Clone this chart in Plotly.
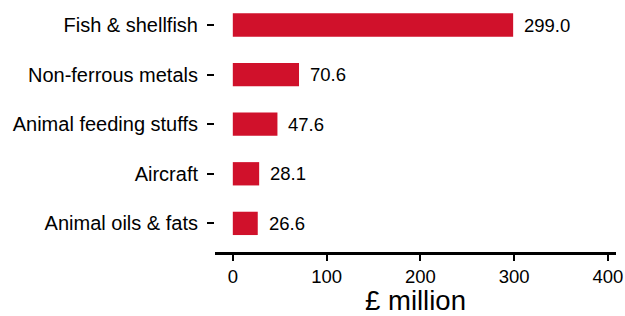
import plotly.graph_objects as go

categories = ["Fish & shellfish", "Non-ferrous metals", "Animal feeding stuffs", "Aircraft", "Animal oils & fats"]
values = [299.0, 70.6, 47.6, 28.1, 26.6]
x_ticks = [0, 100, 200, 300, 400]

RED = "#D0112B"
FONT = "Liberation Sans, Arial, sans-serif"
INK = "#000000"

fig = go.Figure()
fig.add_trace(go.Bar(
    x=values, y=categories, orientation="h",
    marker=dict(color=RED, line=dict(width=0)),
    width=0.47, hoverinfo="skip",
))
for c, v in zip(categories, values):
    fig.add_annotation(x=v, y=c, text=f"{v:.1f}", showarrow=False,
                       xanchor="left", xshift=9, font=dict(family=FONT, size=18.5, color=INK))

fig.update_layout(
    width=625, height=316,
    margin=dict(l=215, r=9, t=0, b=64, autoexpand=False),
    paper_bgcolor="white", plot_bgcolor="white",
    showlegend=False,
    font=dict(family=FONT, size=18, color=INK),
)
fig.update_xaxes(
    range=[-19.0, 408.7], tickvals=x_ticks, ticktext=[str(t) for t in x_ticks],
    showgrid=False, zeroline=False, showline=True, linecolor="black", linewidth=2.5,
    ticks="outside", ticklen=6, tickwidth=2, tickcolor="black",
    tickfont=dict(size=18.5, color=INK),
    title=dict(text="£ million", font=dict(size=27.5, color=INK), standoff=5),
    automargin=False,
)
fig.update_yaxes(
    categoryorder="array", categoryarray=categories, range=[4.577, -0.504],
    showgrid=False, zeroline=False, showline=False,
    ticks="outside", ticklen=7, tickwidth=2, tickcolor="black",
    ticklabelstandoff=5,
    tickfont=dict(size=20, color=INK),
    automargin=False,
)
fig.write_html(
    "out.html",
    config={"displayModeBar": False, "staticPlot": True},
    post_script="document.body.style.margin='0';document.body.style.overflow='hidden';",
)
